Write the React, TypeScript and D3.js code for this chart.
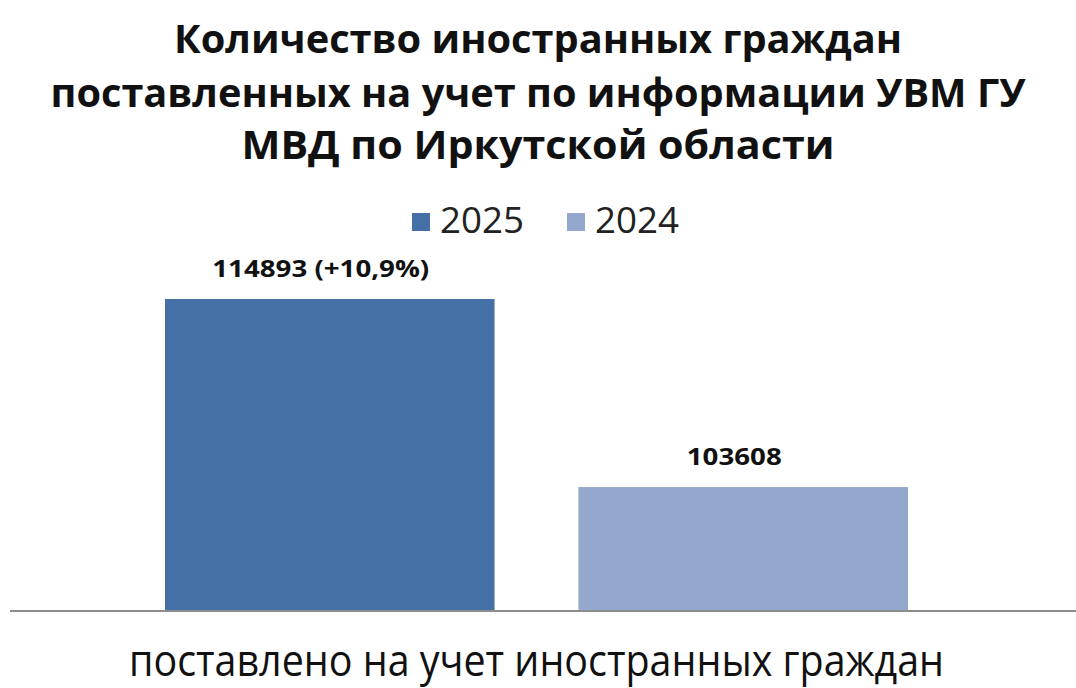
import React from "react";
import * as d3 from "d3";

const titleLines = [
  "Количество иностранных граждан",
  "поставленных на учет по информации  УВМ ГУ",
  "МВД по Иркутской области",
];
const categories = ["поставлено на учет иностранных граждан"];
const seriesNames = ["2025", "2024"];
const seriesValues = [114893, 103608];
const seriesLabels = ["114893 (+10,9%)", "103608"];
const seriesColors = ["#4570A6", "#94A8CE"];

const W = 1076;
const H = 688;

export default function App() {
  const x0 = d3.scaleBand<string>().domain(categories).range([165, 908]).paddingInner(0).paddingOuter(0);
  const x1 = d3
    .scaleBand<string>()
    .domain(seriesNames)
    .range([0, x0.bandwidth()])
    .paddingInner(0.203)
    .paddingOuter(0);
  const y = d3.scaleLinear().domain([96230, 114893]).range([610, 299]);
  const font = "Open Sans, Noto Sans, sans-serif";
  const titleWidths = [728, 975, 593];
  const titleBaselines = [53, 107, 159];

  return (
    <svg
      width={W}
      height={H}
      style={{ position: "absolute", left: 0, top: 0, background: "#fff" }}
    >
      <rect x={0} y={0} width={W} height={H} fill="#fff" />
      {titleLines.map((t, i) => (
        <text
          key={i}
          x={538}
          y={titleBaselines[i]}
          textAnchor="middle"
          fontFamily={font}
          fontWeight={700}
          fontSize={40}
          fill="#111"
          textLength={titleWidths[i]}
          lengthAdjust="spacingAndGlyphs"
        >
          {t}
        </text>
      ))}
      {/* legend */}
      {seriesNames.map((s, i) => {
        const lx = [412, 567][i];
        return (
          <g key={s}>
            <rect x={lx} y={213} width={18} height={18} fill={seriesColors[i]} />
            <text
              x={lx + 28}
              y={233}
              fontFamily={font}
              fontSize={37}
              fill="#222"
              textLength={84}
              lengthAdjust="spacingAndGlyphs"
            >
              {s}
            </text>
          </g>
        );
      })}
      {/* bars */}
      {categories.map((c) => (
        <g key={c} transform={`translate(${x0(c)},0)`}>
          {seriesNames.map((s, i) => {
            const bx = x1(s)!;
            const by = y(seriesValues[i]);
            return (
              <g key={s}>
                <rect
                  x={bx}
                  y={by}
                  width={x1.bandwidth()}
                  height={y.range()[0] - by}
                  fill={seriesColors[i]}
                />
                <text
                  x={bx + x1.bandwidth() / 2 - 9}
                  y={by - 22}
                  textAnchor="middle"
                  fontFamily={font}
                  fontWeight={700}
                  fontSize={24}
                  fill="#111"
                  textLength={i === 0 ? 217 : 95}
                  lengthAdjust="spacingAndGlyphs"
                >
                  {seriesLabels[i]}
                </text>
              </g>
            );
          })}
        </g>
      ))}
      {/* axis line */}
      <line x1={10} x2={W} y1={611} y2={611} stroke="#8c8c8c" strokeWidth={2} />
      {/* category label */}
      {categories.map((c) => (
        <text
          key={c}
          x={x0(c)! + x0.bandwidth() / 2}
          y={676}
          textAnchor="middle"
          fontFamily={font}
          fontSize={44}
          fill="#111"
          textLength={815}
          lengthAdjust="spacingAndGlyphs"
        >
          {c}
        </text>
      ))}
    </svg>
  );
}
